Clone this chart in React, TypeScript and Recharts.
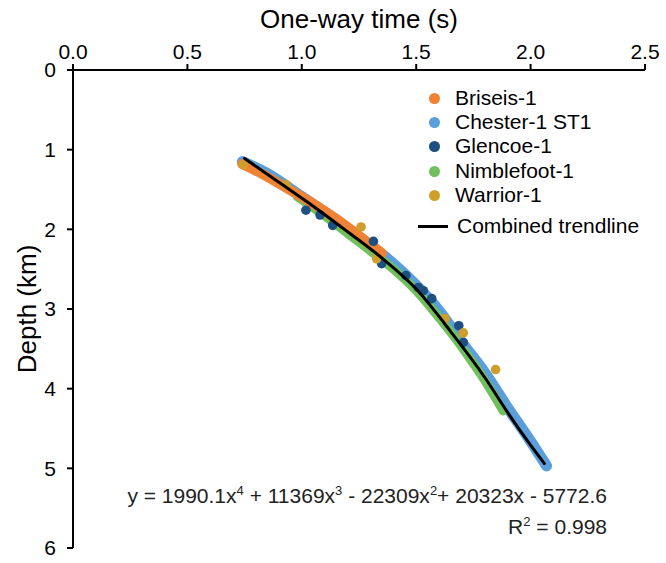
import React from 'react';
import { ScatterChart, Scatter, XAxis, YAxis } from 'recharts';

const FONT = 'Arial, "Liberation Sans", Helvetica, sans-serif';

// colours of the wells
const COLORS = {
  briseis: '#F08236',
  chester: '#5A9FDB',
  glencoe: '#1D4F80',
  nimblefoot: '#72BF5E',
  warrior: '#D09E2A',
  trend: '#000000',
};

const xTicks = [0, 0.5, 1, 1.5, 2, 2.5];
const yTicks = [0, 1, 2, 3, 4, 5, 6];

// one-way time (s) / depth (km)
const chesterTime = [0.74, 0.85, 1.0, 1.15, 1.3, 1.4, 1.5, 1.6, 1.7, 1.8, 1.9, 2.0, 2.07];
const chesterDepth = [1.15, 1.3, 1.59, 1.88, 2.2, 2.43, 2.7, 3.02, 3.42, 3.8, 4.24, 4.66, 4.97];

const nimblefootTime = [0.98, 1.1, 1.2, 1.3, 1.4, 1.5, 1.6, 1.7, 1.8, 1.88];
const nimblefootDepth = [1.59, 1.83, 2.05, 2.27, 2.5, 2.77, 3.11, 3.48, 3.9, 4.28];

const briseisTime = [0.74, 0.83, 0.95, 1.05, 1.15, 1.25, 1.35];
const briseisDepth = [1.18, 1.31, 1.51, 1.68, 1.87, 2.08, 2.3];

const glencoeTime = [1.018, 1.08, 1.135, 1.313, 1.349, 1.455, 1.509, 1.531, 1.568, 1.686, 1.706];
const glencoeDepth = [1.76, 1.82, 1.95, 2.15, 2.43, 2.58, 2.73, 2.77, 2.87, 3.21, 3.42];

const warriorTime = [0.744, 0.931, 1.259, 1.327, 1.626, 1.706, 1.847];
const warriorDepth = [1.19, 1.44, 1.97, 2.37, 3.12, 3.3, 3.76];

const trendTime = [0.75, 0.9, 1.05, 1.2, 1.35, 1.5, 1.65, 1.8, 1.9, 2.0, 2.06];
const trendDepth = [1.11, 1.41, 1.71, 2.03, 2.36, 2.75, 3.28, 3.86, 4.3, 4.71, 4.94];

const zip = (t: number[], d: number[]) => t.map((v, i) => ({ t: v, d: d[i] }));

const legendItems = [
  { name: 'Briseis-1', color: COLORS.briseis, line: false },
  { name: 'Chester-1 ST1', color: COLORS.chester, line: false },
  { name: 'Glencoe-1', color: COLORS.glencoe, line: false },
  { name: 'Nimblefoot-1', color: COLORS.nimblefoot, line: false },
  { name: 'Warrior-1', color: COLORS.warrior, line: false },
  { name: 'Combined trendline', color: COLORS.trend, line: true },
];

const ChartLegend = () => (
  <div style={{ position: 'absolute', left: 416, top: 86, fontFamily: FONT, fontSize: 21, color: '#000' }}>
    {legendItems.map((item) => (
      <div
        key={item.name}
        style={{
          display: 'flex',
          alignItems: 'center',
          height: 24.2,
          marginTop: item.line ? 7 : 0,
        }}
      >
        <div style={{ width: 38, position: 'relative', height: 24 }}>
          {item.line ? (
            <div style={{ position: 'absolute', left: 2, top: 11, width: 30, height: 3, background: item.color }} />
          ) : (
            <div style={{ position: 'absolute', left: 13, top: 7, width: 11, height: 11, borderRadius: '50%', background: item.color }} />
          )}
        </div>
        <span style={{ marginLeft: item.line ? 3 : 1, whiteSpace: 'nowrap' }}>{item.name}</span>
      </div>
    ))}
  </div>
);

const Dot = (props: any) => {
  const { cx, cy, fill } = props;
  return <circle cx={cx} cy={cy} r={4.8} fill={fill} />;
};

const NoDot = () => null;

const bandLine = (color: string, width: number) => ({
  stroke: color,
  strokeWidth: width,
  strokeLinecap: 'round',
  strokeLinejoin: 'round',
});

const sup = { fontSize: 13 };

export default function App() {
  return (
    <div style={{ position: 'absolute', left: 0, top: 0, width: 666, height: 563, background: '#fff' }}>
      <ScatterChart width={666} height={563} margin={{ top: 0, right: 21, bottom: 15, left: 13 }}>
        <XAxis
          xAxisId={0}
          dataKey="t"
          type="number"
          orientation="top"
          domain={[0, 2.5]}
          ticks={xTicks}
          tickFormatter={(v: number) => v.toFixed(1)}
          height={70}
          tickSize={6}
          tickMargin={5}
          axisLine={{ stroke: '#000', strokeWidth: 2 }}
          tickLine={{ stroke: '#000', strokeWidth: 2 }}
          tick={{ fill: '#000', fontSize: 21, fontFamily: FONT }}
          label={{ value: 'One-way time (s)', position: 'insideTop', offset: 10, fill: '#000', fontSize: 26, fontFamily: FONT }}
        />
        <YAxis
          yAxisId={0}
          dataKey="d"
          type="number"
          reversed
          domain={[0, 6]}
          ticks={yTicks}
          width={60}
          tickSize={6}
          tickMargin={11}
          axisLine={{ stroke: '#000', strokeWidth: 2 }}
          tickLine={{ stroke: '#000', strokeWidth: 2 }}
          tick={{ fill: '#000', fontSize: 21, fontFamily: FONT }}
          label={{ value: 'Depth (km)', angle: -90, position: 'center', dx: -16, fill: '#000', fontSize: 26, fontFamily: FONT }}
        />
        <Scatter
          name="Chester-1 ST1"
          data={zip(chesterTime, chesterDepth)}
          fill={COLORS.chester}
          line={bandLine(COLORS.chester, 11)}
          lineJointType="monotoneX"
          shape={NoDot}
          isAnimationActive={false}
        />
        <Scatter
          name="Nimblefoot-1"
          data={zip(nimblefootTime, nimblefootDepth)}
          fill={COLORS.nimblefoot}
          line={bandLine(COLORS.nimblefoot, 9)}
          lineJointType="monotoneX"
          shape={NoDot}
          isAnimationActive={false}
        />
        <Scatter
          name="Briseis-1"
          data={zip(briseisTime, briseisDepth)}
          fill={COLORS.briseis}
          line={bandLine(COLORS.briseis, 10)}
          lineJointType="monotoneX"
          shape={NoDot}
          isAnimationActive={false}
        />
        <Scatter
          name="Glencoe-1"
          data={zip(glencoeTime, glencoeDepth)}
          fill={COLORS.glencoe}
          shape={Dot}
          isAnimationActive={false}
        />
        <Scatter
          name="Warrior-1"
          data={zip(warriorTime, warriorDepth)}
          fill={COLORS.warrior}
          shape={Dot}
          isAnimationActive={false}
        />
        <Scatter
          name="Combined trendline"
          data={zip(trendTime, trendDepth)}
          fill={COLORS.trend}
          line={bandLine(COLORS.trend, 3)}
          lineJointType="monotoneX"
          shape={NoDot}
          isAnimationActive={false}
        />
      </ScatterChart>
      <ChartLegend />
      <div
        style={{
          position: 'absolute',
          right: 59,
          top: 478,
          textAlign: 'right',
          fontFamily: FONT,
          fontSize: 21,
          lineHeight: '26px',
          color: '#222',
          whiteSpace: 'nowrap',
        }}
      >
        <div>
          y = 1990.1x<sup style={sup}>4</sup> + 11369x<sup style={sup}>3</sup> - 22309x<sup style={sup}>2</sup>+ 20323x - 5772.6
        </div>
        <div>
          R<sup style={sup}>2</sup> = 0.998
        </div>
      </div>
    </div>
  );
}
